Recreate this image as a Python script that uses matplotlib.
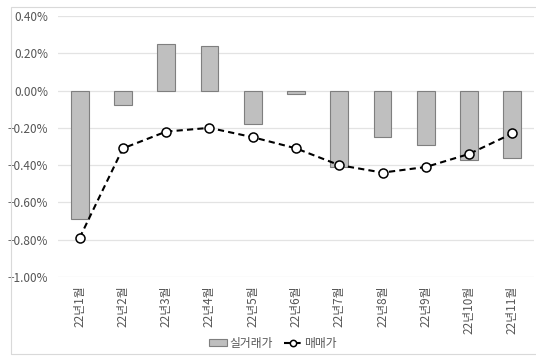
import matplotlib.pyplot as plt
from matplotlib.patches import Rectangle
from matplotlib.ticker import FuncFormatter

plt.rcParams['font.family'] = ['Noto Sans CJK KR', 'DejaVu Sans']

# 월별 변동률 (%)
months = ['22년1월', '22년2월', '22년3월', '22년4월', '22년5월', '22년6월',
          '22년7월', '22년8월', '22년9월', '22년10월', '22년11월']
real_price = [-0.69, -0.08, 0.25, 0.24, -0.18, -0.02, -0.41, -0.25, -0.29, -0.37, -0.36]
sale_price = [-0.79, -0.31, -0.22, -0.20, -0.25, -0.31, -0.40, -0.44, -0.41, -0.34, -0.23]

fig = plt.figure(figsize=(5.36, 3.56), dpi=100)
ax = fig.add_axes([58 / 536, 1 - 277 / 356, 476 / 536, 261 / 356])

# 바깥 테두리
fig.patches.append(Rectangle((10.5 / 536, 2 / 356), 0.99, 347 / 356, transform=fig.transFigure,
                             fill=False, edgecolor='#d9d9d9', linewidth=0.8, zorder=0))

x = list(range(len(months)))
bars = ax.bar(x, real_price, width=0.41, color='#bfbfbf', edgecolor='#7f7f7f', linewidth=0.8,
              label='실거래가', zorder=2)
line, = ax.plot(x, sale_price, color='black', linestyle='--', dashes=(3, 2), linewidth=1.5,
                marker='o', markersize=6.5, markerfacecolor='white', markeredgecolor='black',
                markeredgewidth=1.1, label='매매가', zorder=3)

ax.set_xlim(-0.5, len(months) - 0.5)
ax.set_ylim(-1.0, 0.4)
ax.set_yticks([0.4, 0.2, 0.0, -0.2, -0.4, -0.6, -0.8, -1.0])
ax.yaxis.set_major_formatter(FuncFormatter(lambda v, p: f'{v:.2f}%'.replace('-', '\u2212') if abs(v) > 1e-9 else '0.00%'))
ax.grid(axis='y', color='#e3e3e3', linewidth=0.9, zorder=0)
ax.set_axisbelow(True)

for s in ax.spines.values():
    s.set_visible(False)

ax.set_xticks(x)
ax.set_xticklabels(months, rotation=90, va='top', ha='center')
ax.tick_params(axis='both', length=0, labelsize=8.5, labelcolor='#555555')
ax.tick_params(axis='x', pad=6)
ax.tick_params(axis='y', pad=7)

leg = ax.legend([bars, line], ['실거래가', '매매가'], loc='center',
                bbox_to_anchor=(273 / 536, 1 - 343 / 356), bbox_transform=fig.transFigure,
                ncol=2, frameon=False, fontsize=8.5, handlelength=1.5, handleheight=0.5,
                handletextpad=0.2, columnspacing=1.0, labelcolor='#555555', markerscale=0.7)

fig.savefig('out.png', dpi=100)
